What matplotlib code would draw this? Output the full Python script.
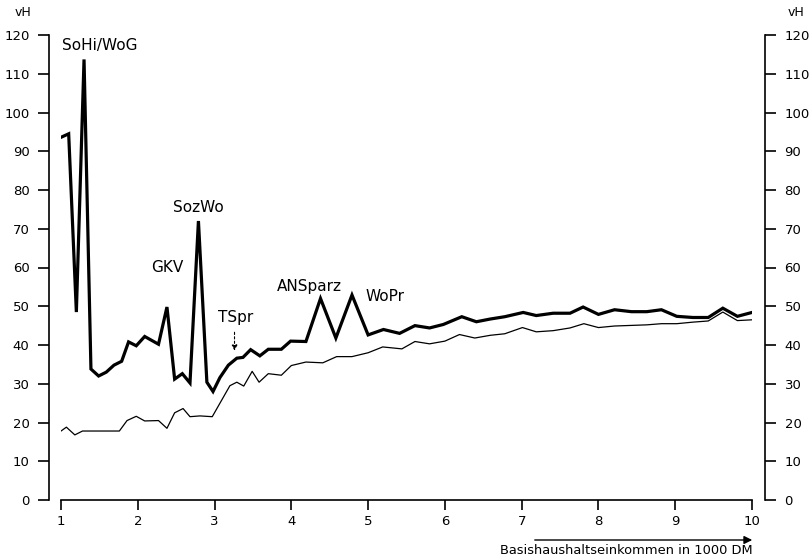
import matplotlib

matplotlib.use('Agg')

import matplotlib.pyplot as plt

# thick line (upper curve)
x1 = [1.0, 1.1, 1.2, 1.3, 1.39, 1.49, 1.59, 1.69, 1.79, 1.88, 1.98, 2.09, 2.27, 2.38,
      2.48, 2.58, 2.68, 2.79, 2.90, 2.98, 3.07, 3.18, 3.29, 3.37, 3.47, 3.59, 3.70,
      3.87, 3.99, 4.19, 4.38, 4.58, 4.79, 5.00, 5.20, 5.41, 5.61, 5.80, 5.98, 6.22,
      6.41, 6.59, 6.78, 7.02, 7.19, 7.41, 7.63, 7.80, 8.00, 8.21, 8.43, 8.63, 8.82,
      9.02, 9.23, 9.43, 9.62, 9.81, 10.0]
y1 = [93.6, 94.5, 48.5, 113.7, 33.8, 32.0, 33.0, 34.8, 35.8, 40.8, 39.8, 42.2, 40.2, 49.8,
      31.2, 32.6, 30.2, 72.0, 30.4, 28.0, 31.6, 34.8, 36.6, 36.8, 38.8, 37.2, 38.9,
      38.9, 41.0, 40.9, 52.0, 41.8, 52.9, 42.6, 44.0, 43.0, 45.0, 44.4, 45.3, 47.3,
      46.0, 46.7, 47.3, 48.4, 47.6, 48.2, 48.2, 49.8, 47.9, 49.1, 48.6, 48.6, 49.1,
      47.4, 47.1, 47.1, 49.5, 47.4, 48.4]

# thin line (lower curve)
x2 = [1.0, 1.07, 1.18, 1.28, 1.76, 1.86, 1.98, 2.09, 2.27, 2.38, 2.48, 2.59, 2.68, 2.81,
      2.97, 3.20, 3.29, 3.38, 3.49, 3.58, 3.70, 3.87, 4.00, 4.19, 4.41, 4.59, 4.79,
      5.00, 5.19, 5.44, 5.61, 5.80, 6.00, 6.19, 6.39, 6.59, 6.78, 7.01, 7.19, 7.41,
      7.63, 7.81, 8.00, 8.21, 8.63, 8.82, 9.02, 9.23, 9.43, 9.62, 9.81, 10.0]
y2 = [17.8, 18.8, 16.8, 17.8, 17.8, 20.5, 21.6, 20.4, 20.5, 18.5, 22.5, 23.6, 21.5, 21.7,
      21.5, 29.5, 30.4, 29.4, 33.2, 30.4, 32.6, 32.2, 34.7, 35.6, 35.4, 37.0, 37.0,
      38.0, 39.5, 39.0, 40.9, 40.3, 41.0, 42.7, 41.8, 42.5, 42.9, 44.5, 43.4, 43.7,
      44.4, 45.5, 44.5, 44.9, 45.2, 45.5, 45.5, 45.9, 46.2, 48.5, 46.3, 46.5]

# annotations: text, x, y
labels = ['SoHi/WoG', 'SozWo', 'GKV', 'TSpr', 'ANSparz', 'WoPr']
lab_x = [1.51, 2.79, 2.38, 3.28, 4.23, 5.22]
lab_y = [117.4, 75.4, 59.9, 47.0, 55.0, 52.6]

yticks = list(range(0, 121, 10))
xticks = list(range(1, 11))

fig = plt.figure(figsize=(8.1, 5.6), dpi=100)
ax = fig.add_axes([61 / 810, 60 / 560, (752 - 61) / 810, (500 - 35) / 560])

ax.plot(x1, y1, color='black', lw=2.3, solid_joinstyle='miter')
ax.plot(x2, y2, color='black', lw=0.9)

ax.set_xlim(1, 10)
ax.set_ylim(0, 120)
ax.set_xticks(xticks)
ax.set_yticks(yticks)

ax.spines['top'].set_visible(False)
ax.spines['left'].set_position(('outward', 8.6))
ax.spines['right'].set_position(('outward', 9.4))
for s in ['left', 'right', 'bottom']:
    ax.spines[s].set_linewidth(1.2)

ax.tick_params(axis='y', which='both', left=True, right=True, labelleft=True,
               labelright=True, direction='out', length=8, width=1.2, pad=6,
               labelsize=9.5)
ax.tick_params(axis='x', direction='out', length=7, width=1.2, pad=4, labelsize=9.5)

ax.text(15 / 810, 1 - 12 / 560, 'vH', transform=fig.transFigure, ha='left',
        va='center', fontsize=9)
ax.text(788 / 810, 1 - 12 / 560, 'vH', transform=fig.transFigure, ha='left',
        va='center', fontsize=9)

for t, lx, ly in zip(labels, lab_x, lab_y):
    ax.text(lx, ly, t, ha='center', va='center', fontsize=11)

# dashed arrow under TSpr
ax.annotate('', xy=(3.26, 37.8), xytext=(3.26, 44.0),
            arrowprops=dict(arrowstyle='-|>', color='black', lw=0.8,
                            linestyle=(0, (2, 2)), mutation_scale=8))

# x-axis caption with arrow
ax.annotate('', xy=(755 / 810, 1 - 540 / 560), xytext=(532 / 810, 1 - 540 / 560),
            xycoords='figure fraction', textcoords='figure fraction',
            arrowprops=dict(arrowstyle='-|>', color='black', lw=1.0, mutation_scale=12))
fig.text(753 / 810, 1 - 551 / 560, 'Basishaushaltseinkommen in 1000 DM',
         ha='right', va='center', fontsize=9.4)

fig.savefig('out.png', dpi=100)
